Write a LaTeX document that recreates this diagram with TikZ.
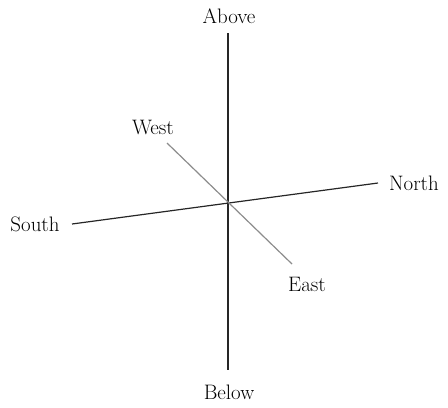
\documentclass[tikz,border=0pt]{standalone}
\begin{document}
\begin{tikzpicture}[x=1bp,y=-1bp,
  lbl/.style={inner sep=0pt,font=\fontsize{21}{25}\selectfont},
  axis/.style={line width=1.2bp,draw=black!85},
  axisgray/.style={line width=1.2bp,draw=black!45}]
\useasboundingbox (0,0) rectangle (448,407);
\coordinate (aT) at (228,33);
\coordinate (aB) at (228,370);
\coordinate (sS) at (72,224);
\coordinate (sN) at (378,183);
\coordinate (wW) at (167,143);
\coordinate (wE) at (292,264);
\draw[axis] (aT) -- (aB);
\draw[axis] (sS) -- (sN);
\draw[axisgray] (wW) -- (wE);
\node[lbl] (above) at (229,16) {Above};
\node[lbl] (below) at (229,392) {Below};
\node[lbl] (south) at (35,224) {South};
\node[lbl] (north) at (414,183) {North};
\node[lbl] (west) at (153,128) {West};
\node[lbl] (east) at (307,284) {East};
\end{tikzpicture}
\end{document}
